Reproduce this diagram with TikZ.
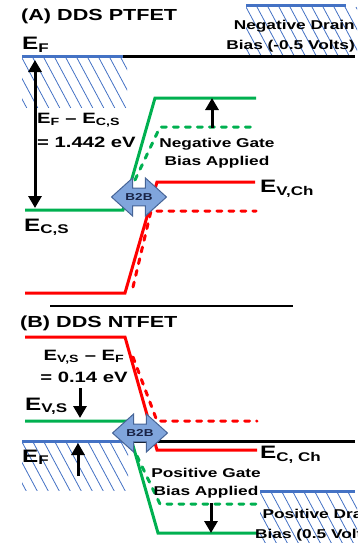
\documentclass[tikz,border=0pt]{standalone}
\usepackage{fontspec}
\setmainfont{Liberation Sans}[FakeStretch=1.35]
\usetikzlibrary{arrows.meta,positioning,shapes.arrows}
\definecolor{bandred}{RGB}{255,0,0}
\definecolor{bandgreen}{RGB}{0,176,80}
\definecolor{fermiblue}{RGB}{68,114,196}
\definecolor{btbfill}{RGB}{128,165,220}
\definecolor{btbdraw}{RGB}{70,100,150}
\definecolor{btbtext}{RGB}{25,35,70}
\newcommand{\bsub}[1]{\textsubscript{#1}}
\tikzset{
  band/.style={line width=3pt},
  grn/.style={band, bandgreen},
  grndash/.style={band, bandgreen, line cap=round, dash pattern=on 5pt off 7pt},
  rd/.style={band, bandred},
  rddash/.style={band, bandred, line cap=round, dash pattern=on 5pt off 7pt},
  fermi/.style={line width=3pt, black},
  fblue/.style={line width=3pt, fermiblue},
  hatch/.style={fermiblue, line width=0.8pt},
  barr/.style={-{Triangle[length=12pt,width=13pt]}, line width=3pt},
  dbarr/.style={{Triangle[length=12pt,width=13pt]}-{Triangle[length=12pt,width=13pt]}, line width=3pt},
  btb/.style={double arrow, draw=btbdraw, fill=btbfill, line width=1pt,
              double arrow head extend=10pt, double arrow tip angle=84,
              minimum height=55pt, inner xsep=0pt, inner ysep=5pt,
              font=\fontsize{10}{12}\selectfont\bfseries, text=btbtext},
  ttl/.style={font=\fontsize{16}{18}\selectfont\bfseries, anchor=base west, inner sep=0pt},
  elab/.style={font=\fontsize{18}{20}\selectfont\bfseries, anchor=base west, inner sep=0pt},
  gap/.style={font=\fontsize{15}{24}\selectfont\bfseries, inner sep=0pt},
  note/.style={font=\fontsize{12.8}{18}\selectfont\bfseries, align=center, anchor=base, inner sep=0pt},
  drn/.style={font=\fontsize{12.8}{20}\selectfont\bfseries, align=right, anchor=base east, inner sep=0pt},
}
% hatched box: x1 y1 x2 y2
\newcommand{\hatchbox}[4]{%
  \begin{scope}
    \clip (#1,#2) rectangle (#3,#4);
    \foreach \hx in {-33,-22,...,120}
      \draw[hatch] (#1+\hx,#2) -- ++(30,56);
  \end{scope}}

\begin{document}
\begin{tikzpicture}[x=1pt, y=-1pt]
  \useasboundingbox (0,0) rectangle (357,543);

  % (A) DDS PTFET
  \node[ttl] (ttlA) at (21,21) {(A) DDS PTFET};
  \hatchbox{22}{58}{127}{107}
  \hatchbox{246}{7}{357}{57}
  \draw[fermi] (22,57) -- (355,57);
  \draw[fblue] (22,57) -- (123,57);
  \draw[fblue] (246,6) -- (346,6);
  \node[drn] (drnA) at (355,49) {Negative Drain\\Bias (-0.5 Volts)};
  \node[elab] (efA) at (22,50) {E\bsub{F}};

  \draw[grn] (25,210) -- (123,210) -- (155,98) -- (256,98);
  \draw[grndash] (135,180) -- (160,127) -- (256,127);
  \draw[rd] (25,293) -- (125,293) -- (157,182) -- (255,182);
  \draw[rddash] (133,287) -- (151,211) -- (256,211);

  \coordinate (fA) at (35,60);
  \coordinate (cA) at (35,208);
  \draw[dbarr] (fA) -- (cA);
  \node[gap, anchor=base west, align=left] (gapA) at (37,147)
       {E\bsub{F} -- E\bsub{C,S}\\= 1.442 eV};
  \node[elab] (ecsA) at (24,231) {E\bsub{C,S}};
  \node[elab] (evchA) at (260,192) {E\bsub{V,Ch}};

  \coordinate (gdA) at (212,128);
  \coordinate (gsA) at (212,98);
  \draw[barr] (gdA) -- (gsA);
  \node[note] (gateA) at (217,165) {Negative Gate\\Bias Applied};

  \node[btb] (btbA) at (139,197) {\makebox[0pt]{B2B}};

  \draw[line width=1.5pt] (50,306) coordinate (sepL) -- (293,306) coordinate (sepR);

  % (B) DDS NTFET
  \node[ttl] (ttlB) at (20,327) {(B) DDS NTFET};
  \hatchbox{22}{442}{128}{490}
  \hatchbox{260}{492}{357}{543}

  \draw[rd] (25,337) -- (125,337) -- (157,450) -- (257,450);
  \draw[rddash] (133,357) -- (157,421) -- (257,421);
  \draw[fermi] (22,441) -- (355,441);
  \draw[fblue] (22,441) -- (127,441);
  \draw[grn] (25,421) -- (126,421) -- (158,533) -- (257,533);
  \draw[grndash] (137,456) -- (160,504) -- (256,504);
  \draw[fblue] (260,491) -- (355,491);

  \node[gap, anchor=base, align=center, font=\fontsize{15}{22}\selectfont\bfseries] (gapB) at (84,382)
       {E\bsub{V,S} -- E\bsub{F}\\= 0.14 eV};
  \node[elab] (evsB) at (25,410) {E\bsub{V,S}};
  \coordinate (vaB) at (80,388);
  \coordinate (vbB) at (80,418);
  \draw[barr] (vaB) -- (vbB);
  \node[elab] (efB) at (22,462) {E\bsub{F}};
  \coordinate (faB) at (78,476);
  \coordinate (fbB) at (78,443);
  \draw[barr] (faB) -- (fbB);
  \node[elab] (ecchB) at (260,458) {E\bsub{C, Ch}};

  \node[note] (gateB) at (206,495) {Positive Gate\\Bias Applied};
  \coordinate (gdB) at (211,503);
  \coordinate (gsB) at (211,533);
  \draw[barr] (gdB) -- (gsB);
  \node[drn] (drnB) at (378,538) {Positive Drain\\Bias (0.5 Volts)};

  \node[btb] (btbB) at (140,433) {\makebox[0pt]{B2B}};
\end{tikzpicture}
\end{document}
